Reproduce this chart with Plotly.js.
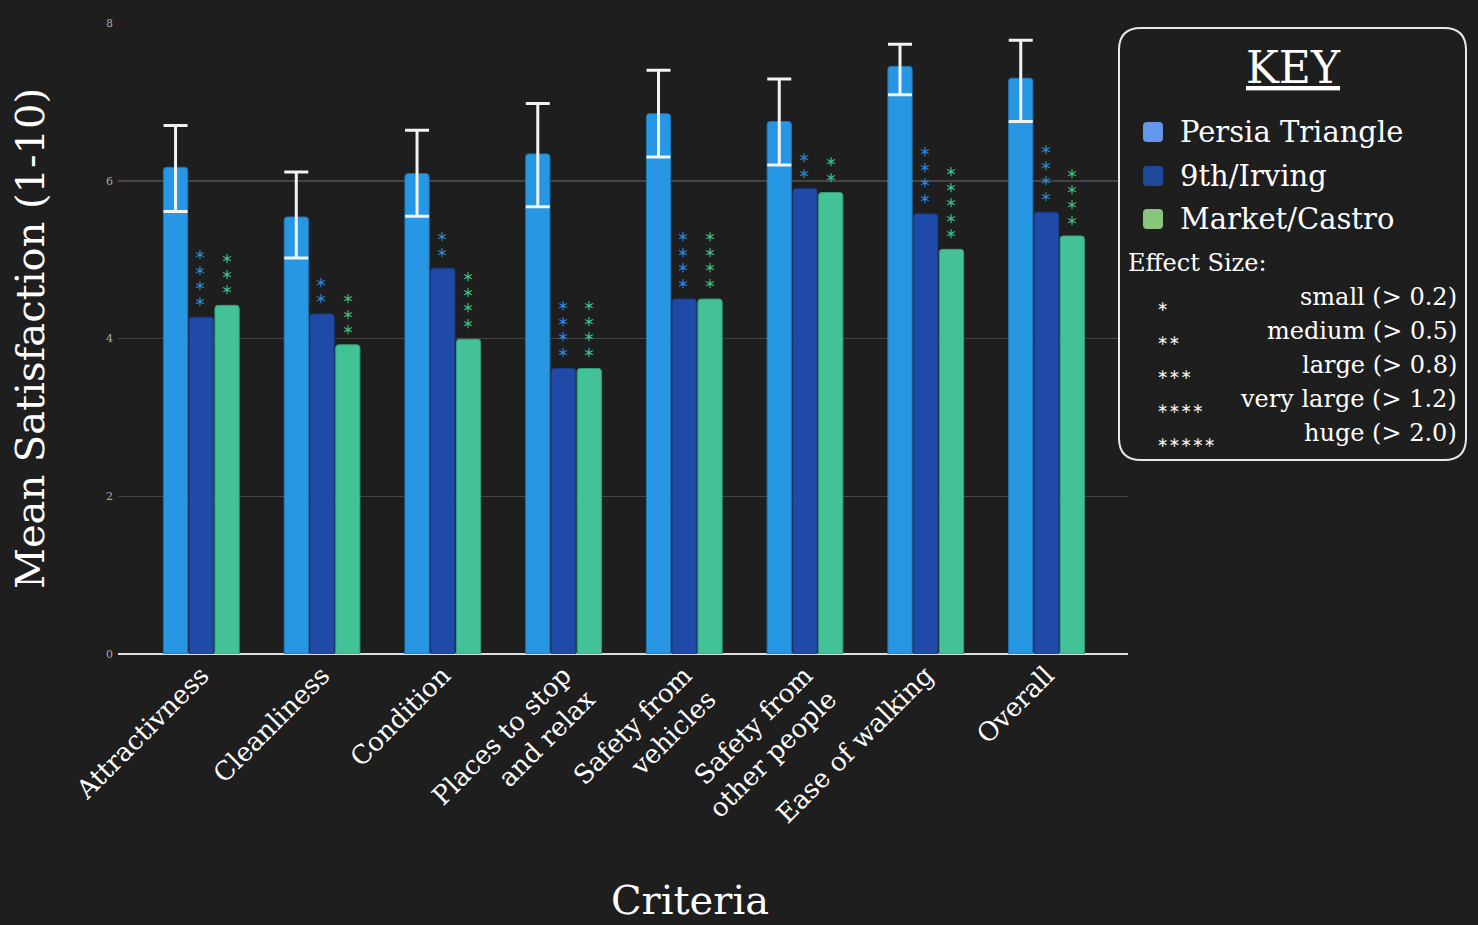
<!DOCTYPE html>
<html>
<head>
<meta charset="utf-8">
<script src="https://cdn.plot.ly/plotly-3.0.1.min.js"></script>
<style>
html,body{margin:0;padding:0;background:#1e1e1e;}
#chart{width:1478px;height:925px;}
</style>
</head>
<body>
<div id="chart"></div>
<script>
const categories = ["Attractivness","Cleanliness","Condition","Places to stop<br>and relax","Safety from<br>vehicles","Safety from<br>other people","Ease of walking","Overall"];
const seriesNames = ["Persia Triangle","9th/Irving","Market/Castro"];
const persia = [6.17,5.54,6.09,6.34,6.85,6.75,7.45,7.30];
const persiaErrPlus = [0.53,0.57,0.55,0.64,0.55,0.54,0.28,0.48];
const persiaErrMinus = [0.56,0.52,0.54,0.67,0.55,0.55,0.36,0.55];
const irving = [4.27,4.31,4.89,3.62,4.50,5.90,5.58,5.60];
const castro = [4.42,3.92,3.99,3.62,4.50,5.85,5.13,5.30];
const irvingStars = [4,2,2,4,4,2,4,4];
const castroStars = [3,3,4,4,4,2,5,4];
const effectLabels = ["small (> 0.2)","medium (> 0.5)","large (> 0.8)","very large (> 1.2)","huge (> 2.0)"];
const effectStars = [1,2,3,4,5];

const FONT = "DejaVu Serif";
const W = 1478, H = 925;
const M = {l:118, r:350, t:23, b:271};
const PW = W - M.l - M.r, PH = H - M.t - M.b;
const px = x => (x - M.l) / PW;
const py = y => (H - M.b - y) / PH;

function roundRect(x0,y0,x1,y1,r){
  const X = px, Y = py;
  return `M${X(x0+r)},${Y(y0)} L${X(x1-r)},${Y(y0)} Q${X(x1)},${Y(y0)} ${X(x1)},${Y(y0+r)} ` +
         `L${X(x1)},${Y(y1-r)} Q${X(x1)},${Y(y1)} ${X(x1-r)},${Y(y1)} ` +
         `L${X(x0+r)},${Y(y1)} Q${X(x0)},${Y(y1)} ${X(x0)},${Y(y1-r)} ` +
         `L${X(x0)},${Y(y0+r)} Q${X(x0)},${Y(y0)} ${X(x0+r)},${Y(y0)} Z`;
}

const xIdx = categories.map((c,i)=>i);
const traces = [
  {type:'bar', name:seriesNames[0], x:xIdx, y:persia,
   marker:{color:'#2797e4', line:{color:'#1f78b8', width:1}, cornerradius:3},
   error_y:{type:'data', symmetric:false, array:persiaErrPlus, arrayminus:persiaErrMinus, color:'#f2f2f2', thickness:3, width:12}},
  {type:'bar', name:seriesNames[1], x:xIdx, y:irving,
   marker:{color:'#1f4aa8', line:{color:'#1a3c88', width:1}, cornerradius:3}},
  {type:'bar', name:seriesNames[2], x:xIdx, y:castro,
   marker:{color:'#43c297', line:{color:'#35a07c', width:1}, cornerradius:3}}
];

const annotations = [];
// significance stars: one stacked text per bar
function addStars(vals, counts, xshift, color){
  vals.forEach((v,i)=>{
    const txt = Array(counts[i]).fill('＊').join('<br>');
    annotations.push({x:i, y:v, xref:'x', yref:'y', text:txt, showarrow:false,
      xshift:xshift, yshift:5, yanchor:'bottom', xanchor:'center', align:'center',
      font:{family:'Noto Sans CJK SC', size:12, weight:'bold', color:color}});
  });
}
addStars(irving, irvingStars, -1, '#2a86d6');
addStars(castro, castroStars, 25.5, '#3dbb8c');

annotations.push({x:px(690), y:py(900), xref:'paper', yref:'paper', text:'Criteria', showarrow:false,
  xanchor:'center', yanchor:'middle', font:{family:FONT, size:40, color:'#ffffff'}});

annotations.push({x:px(1293), y:py(67), xref:'paper', yref:'paper', text:'<u>KEY</u>', showarrow:false,
  xanchor:'center', yanchor:'middle', font:{family:FONT, size:44, color:'#ffffff'}});
const keyColors = ['#6496ec','#1d4a98','#88c67b'];
const keyY = [132,176,219];
const shapes = [];
shapes.push({type:'path', xref:'paper', yref:'paper', path:roundRect(1119,28,1466,460,22),
  line:{color:'#e8e8e8', width:2}, fillcolor:'#1e1e1e', layer:'above'});
seriesNames.forEach((n,i)=>{
  shapes.push({type:'path', xref:'paper', yref:'paper', path:roundRect(1143,keyY[i]-10,1163,keyY[i]+10,4),
    line:{width:0}, fillcolor:keyColors[i], layer:'above'});
  annotations.push({x:px(1178), y:py(keyY[i]), xref:'paper', yref:'paper', text:n, showarrow:false,
    xanchor:'left', yanchor:'middle', font:{family:FONT, size:29, color:'#ffffff'}});
});
annotations.push({x:px(1126), y:py(263), xref:'paper', yref:'paper', text:'Effect Size:', showarrow:false,
  xanchor:'left', yanchor:'middle', font:{family:FONT, size:24, color:'#ffffff'}});
effectLabels.forEach((t,i)=>{
  const yy = 297 + 34*i;
  annotations.push({x:px(1459), y:py(yy), xref:'paper', yref:'paper', text:t, showarrow:false,
    xanchor:'right', yanchor:'middle', font:{family:FONT, size:24, color:'#ffffff'}});
  annotations.push({x:px(1155), y:py(yy+9), xref:'paper', yref:'paper', text:'∗'.repeat(effectStars[i]), showarrow:false,
    xanchor:'left', yanchor:'middle', font:{family:'DejaVu Sans', size:14, color:'#eeeeee'}});
});

const layout = {
  width:W, height:H,
  paper_bgcolor:'#1e1e1e', plot_bgcolor:'#1e1e1e',
  margin:M,
  showlegend:false,
  barmode:'group', bargap:0.36, bargroupgap:0.06,
  font:{family:FONT, color:'#ffffff'},
  xaxis:{type:'linear', range:[-0.69,7.675], tickmode:'array', tickvals:xIdx, ticktext:categories,
    tickangle:-45, tickfont:{family:FONT, size:26, color:'#ffffff'},
    showgrid:false, zeroline:false, showline:false, ticks:'', automargin:false},
  yaxis:{range:[0,8], tickvals:[0,2,4,6,8], showgrid:true, gridcolor:'#444444', gridwidth:1.5,
    zeroline:true, zerolinecolor:'#dddddd', zerolinewidth:2, ticklabelstandoff:4,
    tickfont:{family:FONT, size:11, color:'#aaaaaa'}, ticks:'', automargin:false,
    title:{text:'Mean Satisfaction (1-10)', standoff:49, font:{family:FONT, size:40, color:'#ffffff'}}},
  annotations:annotations,
  shapes:shapes
};

Plotly.newPlot('chart', traces, layout, {displayModeBar:false, staticPlot:true});
</script>
</body>
</html>
